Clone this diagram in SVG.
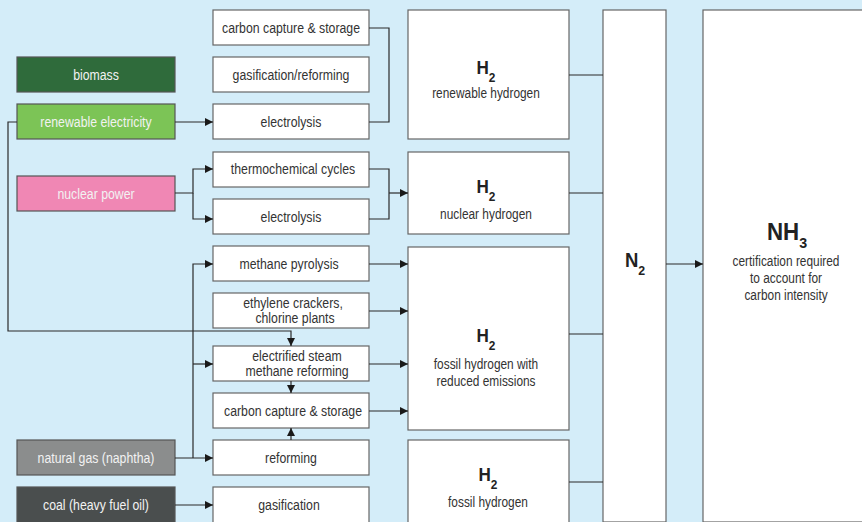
<svg xmlns="http://www.w3.org/2000/svg" width="862" height="522" viewBox="0 0 862 522">
  <defs>
    <marker id="arrow" markerUnits="userSpaceOnUse" markerWidth="9" markerHeight="9" refX="8" refY="4" orient="auto">
      <path d="M0,0 L8,4 L0,8 z" fill="#1a1a1a"/>
    </marker>
    <style>
      text { font-family: "Liberation Sans", Arial, sans-serif; fill: #333; text-anchor: middle;
             transform-box: fill-box; transform-origin: center; transform: scaleX(0.82); }
      .box { fill: #fff; stroke: #666; stroke-width: 1.2; }
      .src { stroke: #555; stroke-width: 1.2; }
      .lbl { font-size: 15px; }
      .srclbl { font-size: 15px; fill: #f2f2f2; }
      .big { font-size: 18px; font-weight: bold; fill: #222; transform: scaleX(0.95); }
      .sub { font-size: 12.5px; font-weight: bold; fill: #222; }
      .small { font-size: 14.5px; }
      .conn path { fill: none; stroke: #2a2a2a; stroke-width: 1.2; }
    </style>
  </defs>

  <rect width="862" height="522" fill="#d4edf9"/>

  <!-- sources -->
  <g id="biomass"><rect class="src" x="17" y="57" width="158" height="35" fill="#2f6b3b"/><text class="srclbl" x="96" y="80">biomass</text></g>
  <g id="renewable-electricity"><rect class="src" x="17" y="104" width="158" height="35" fill="#7cc456"/><text class="srclbl" x="96" y="127">renewable electricity</text></g>
  <g id="nuclear-power"><rect class="src" x="17" y="176" width="158" height="35" fill="#f087b4"/><text class="srclbl" x="96" y="199">nuclear power</text></g>
  <g id="natural-gas"><rect class="src" x="17" y="440" width="158" height="35" fill="#8b8d8d"/><text class="srclbl" x="96" y="463">natural gas (naphtha)</text></g>
  <g id="coal"><rect class="src" x="17" y="487" width="158" height="36" fill="#4a4e4e"/><text class="srclbl" x="96" y="510">coal (heavy fuel oil)</text></g>

  <!-- processes -->
  <g id="ccs-1"><rect class="box" x="213" y="10" width="156" height="35"/><text class="lbl" x="291" y="33">carbon capture &amp; storage</text></g>
  <g id="gasification-reforming"><rect class="box" x="213" y="57" width="156" height="35"/><text class="lbl" x="291" y="80">gasification/reforming</text></g>
  <g id="electrolysis-1"><rect class="box" x="213" y="104" width="156" height="35"/><text class="lbl" x="291" y="127">electrolysis</text></g>
  <g id="thermochemical"><rect class="box" x="213" y="152" width="156" height="35"/><text class="lbl" x="293" y="174">thermochemical cycles</text></g>
  <g id="electrolysis-2"><rect class="box" x="213" y="199" width="156" height="35"/><text class="lbl" x="291" y="222">electrolysis</text></g>
  <g id="methane-pyrolysis"><rect class="box" x="213" y="246" width="156" height="35"/><text class="lbl" x="289" y="269">methane pyrolysis</text></g>
  <g id="ethylene"><rect class="box" x="213" y="293" width="156" height="35"/><text class="lbl" x="293" y="308">ethylene crackers,</text><text class="lbl" x="295" y="323">chlorine plants</text></g>
  <g id="esmr"><rect class="box" x="213" y="346" width="156" height="35"/><text class="lbl" x="297" y="361">electrified steam</text><text class="lbl" x="297" y="376">methane reforming</text></g>
  <g id="ccs-2"><rect class="box" x="213" y="393" width="156" height="35"/><text class="lbl" x="293" y="416">carbon capture &amp; storage</text></g>
  <g id="reforming"><rect class="box" x="213" y="440" width="156" height="35"/><text class="lbl" x="291" y="463">reforming</text></g>
  <g id="gasification"><rect class="box" x="213" y="487" width="156" height="36"/><text class="lbl" x="289" y="510">gasification</text></g>

  <!-- hydrogen -->
  <g id="h2-renewable"><rect class="box" x="408" y="10" width="161" height="129"/>
    <text class="big" x="486" y="74">H<tspan class="sub" dy="8">2</tspan></text>
    <text class="small" x="486" y="98">renewable hydrogen</text></g>
  <g id="h2-nuclear"><rect class="box" x="408" y="152" width="161" height="82"/>
    <text class="big" x="486" y="193">H<tspan class="sub" dy="8">2</tspan></text>
    <text class="small" x="486" y="219">nuclear hydrogen</text></g>
  <g id="h2-fossil-reduced"><rect class="box" x="408" y="247" width="161" height="183"/>
    <text class="big" x="486" y="342">H<tspan class="sub" dy="8">2</tspan></text>
    <text class="small" x="486" y="369">fossil hydrogen with</text>
    <text class="small" x="486" y="386">reduced emissions</text></g>
  <g id="h2-fossil"><rect class="box" x="408" y="440" width="161" height="83"/>
    <text class="big" x="488" y="481">H<tspan class="sub" dy="8">2</tspan></text>
    <text class="small" x="488" y="507">fossil hydrogen</text></g>

  <!-- nitrogen and ammonia -->
  <g id="n2"><rect class="box" x="603" y="10" width="63" height="512"/>
    <text class="big" x="635" y="267" style="font-size:19.5px">N<tspan class="sub" dy="8" style="font-size:13px">2</tspan></text></g>
  <g id="nh3"><rect class="box" x="703" y="10" width="165" height="512"/>
    <text class="big" x="787" y="240" style="font-size:23.5px">NH<tspan class="sub" dy="8" style="font-size:15px">3</tspan></text>
    <text class="small" x="786" y="266">certification required</text>
    <text class="small" x="786" y="283">to account for</text>
    <text class="small" x="786" y="300">carbon intensity</text></g>

  <!-- connectors -->
  <g class="conn" id="connectors">
    <path d="M369,28 H389 V122 H369"/>
    <path d="M175,122 H213" marker-end="url(#arrow)"/>
    <path d="M17,122 H8 V331 H291 V346" marker-end="url(#arrow)"/>
    <path d="M175,193 H193 V169 H213" marker-end="url(#arrow)"/>
    <path d="M193,193 V219 H213" marker-end="url(#arrow)"/>
    <path d="M369,169 H389 V219 H369"/>
    <path d="M389,193 H408" marker-end="url(#arrow)"/>
    <path d="M369,264 H408" marker-end="url(#arrow)"/>
    <path d="M369,311 H408" marker-end="url(#arrow)"/>
    <path d="M369,364 H408" marker-end="url(#arrow)"/>
    <path d="M369,411 H408" marker-end="url(#arrow)"/>
    <path d="M175,458 H213" marker-end="url(#arrow)"/>
    <path d="M193,458 V264 H213" marker-end="url(#arrow)"/>
    <path d="M193,364 H213" marker-end="url(#arrow)"/>
    <path d="M291,381 V393" marker-end="url(#arrow)"/>
    <path d="M291,440 V428" marker-end="url(#arrow)"/>
    <path d="M175,505 H213" marker-end="url(#arrow)"/>
    <path d="M569,75 H603"/>
    <path d="M569,193 H603"/>
    <path d="M569,334 H603"/>
    <path d="M569,482 H603"/>
    <path d="M666,264 H703" marker-end="url(#arrow)"/>
  </g>
</svg>
